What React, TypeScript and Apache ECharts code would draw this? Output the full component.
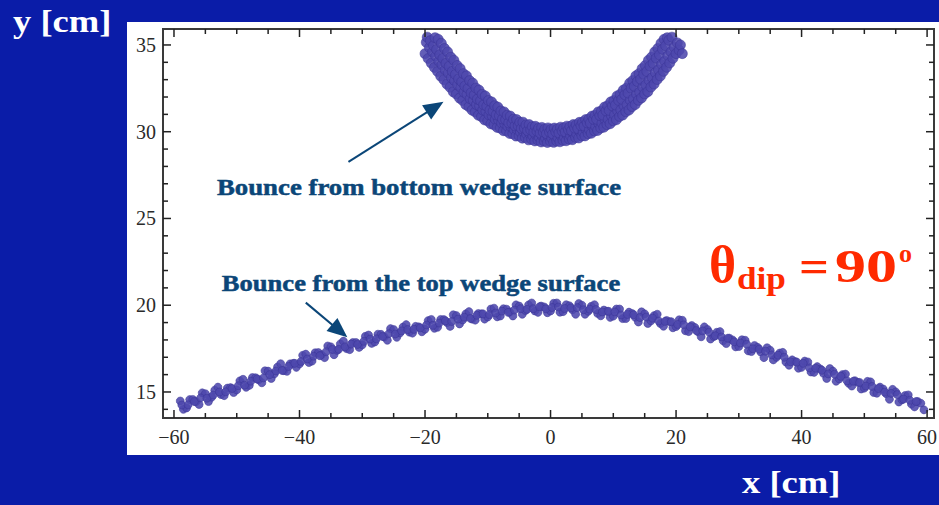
import React, { useEffect, useRef } from "react";
import * as echarts from "echarts";

// ---- axis ticks / labels ----
const xMajorTicks = [-60, -40, -20, 0, 20, 40, 60];
const xMinorTicks = [-60, -55, -50, -45, -40, -35, -30, -25, -20, -15, -10, -5, 0, 5, 10, 15, 20, 25, 30, 35, 40, 45, 50, 55, 60];
const yMajorTicks = [15, 20, 25, 30, 35];
const yMinorTicks = [14, 15, 16, 17, 18, 19, 20, 21, 22, 23, 24, 25, 26, 27, 28, 29, 30, 31, 32, 33, 34, 35];
const xRange = [-61.75, 61.1];
const yRange = [13.5, 35.92];

// ---- data: bounce from the top wedge surface (lower arc) ----
const topSurfaceBounce: number[][] = [
  [-59,14.48],[-58.5,14.0],[-58,14.08],[-57.5,14.56],[-57,14.57],[-56.5,14.44],[-56,14.28],[-55.5,14.95],[-55,14.9],[-54.5,14.45],
  [-54,14.7],[-53.5,15.1],[-53,15.28],[-52.5,14.85],[-52,14.79],[-51.5,15.22],[-51,15.25],[-50.5,14.97],[-50,15.12],[-49.5,15.64],
  [-49,15.73],[-48.5,15.27],[-48,15.38],[-47.5,15.83],[-47,15.82],[-46.5,15.7],[-46,15.53],[-45.5,16.22],[-45,16.2],[-44.5,15.78],
  [-44,16.05],[-43.5,16.44],[-43,16.63],[-42.5,16.23],[-42,16.19],[-41.5,16.62],[-41,16.65],[-40.5,16.42],[-40,16.62],[-39.5,17.11],
  [-39,17.18],[-38.5,16.7],[-38,16.78],[-37.5,17.26],[-37,17.27],[-36.5,17.14],[-36,16.98],[-35.5,17.65],[-35,17.6],[-34.5,17.15],
  [-34,17.4],[-33.5,17.77],[-33,17.93],[-32.5,17.5],[-32,17.44],[-31.5,17.85],[-31,17.85],[-30.5,17.57],[-30,17.72],[-29.5,18.21],
  [-29,18.28],[-28.5,17.8],[-28,17.88],[-27.5,18.33],[-27,18.32],[-26.5,18.17],[-26,17.98],[-25.5,18.65],[-25,18.6],[-24.5,18.15],
  [-24,18.4],[-23.5,18.74],[-23,18.88],[-22.5,18.45],[-22,18.39],[-21.5,18.78],[-21,18.75],[-20.5,18.47],[-20,18.62],[-19.5,19.11],
  [-19,19.18],[-18.5,18.67],[-18,18.73],[-17.5,19.18],[-17,19.17],[-16.5,19.0],[-16,18.78],[-15.5,19.45],[-15,19.4],[-14.5,18.92],
  [-14,19.15],[-13.5,19.5],[-13,19.63],[-12.5,19.2],[-12,19.14],[-11.5,19.52],[-11,19.5],[-10.5,19.2],[-10,19.32],[-9.5,19.78],
  [-9,19.83],[-8.5,19.33],[-8,19.38],[-7.5,19.8],[-7,19.77],[-6.5,19.6],[-6,19.38],[-5.5,20.02],[-5,19.95],[-4.5,19.48],
  [-4,19.7],[-3.5,20.02],[-3,20.13],[-2.5,19.67],[-2,19.59],[-1.5,19.95],[-1,19.9],[-0.5,19.57],[0,19.67],[0.5,20.11],
  [1,20.13],[1.5,19.6],[2,19.63],[2.5,20.03],[3,19.97],[3.5,19.74],[4,19.48],[4.5,20.1],[5,20.0],[5.5,19.48],
  [6,19.65],[6.5,19.94],[7,20.03],[7.5,19.53],[8,19.39],[8.5,19.72],[9,19.65],[9.5,19.3],[10,19.37],[10.5,19.78],
  [11,19.78],[11.5,19.23],[12,19.23],[12.5,19.6],[13,19.52],[13.5,19.3],[14,19.03],[14.5,19.62],[15,19.5],[15.5,18.95],
  [16,19.1],[16.5,19.4],[17,19.48],[17.5,18.95],[18,18.79],[18.5,19.12],[19,19.05],[19.5,18.7],[20,18.77],[20.5,19.16],
  [21,19.13],[21.5,18.53],[22,18.48],[22.5,18.83],[23,18.72],[23.5,18.47],[24,18.18],[24.5,18.75],[25,18.6],[25.5,18.05],
  [26,18.2],[26.5,18.44],[27,18.48],[27.5,17.95],[28,17.79],[28.5,18.1],[29,18.0],[29.5,17.6],[30,17.62],[30.5,18.01],
  [31,17.98],[31.5,17.37],[32,17.33],[32.5,17.68],[33,17.57],[33.5,17.3],[34,16.98],[34.5,17.55],[35,17.4],[35.5,16.85],
  [36,17.0],[36.5,17.24],[37,17.28],[37.5,16.73],[38,16.54],[38.5,16.85],[39,16.75],[39.5,16.37],[40,16.42],[40.5,16.78],
  [41,16.73],[41.5,16.15],[42,16.13],[42.5,16.46],[43,16.32],[43.5,16.07],[44,15.78],[44.5,16.35],[45,16.2],[45.5,15.62],
  [46,15.75],[46.5,16.0],[47,16.03],[47.5,15.5],[48,15.34],[48.5,15.65],[49,15.55],[49.5,15.17],[50,15.22],[50.5,15.61],
  [51,15.58],[51.5,14.97],[52,14.93],[52.5,15.28],[53,15.17],[53.5,14.9],[54,14.58],[54.5,15.15],[55,15.0],[55.5,14.42],
  [56,14.55],[56.5,14.8],[57,14.83],[57.5,14.3],[58,14.14],[58.5,14.45],[59,14.35],[59.5,13.97],
  [-58.75,14.25],[-57.75,14.26],[-56.75,14.45],[-55.75,14.66],[-54.75,14.64],[-53.75,14.82],[-52.75,15.0],[-51.75,15.01],
  [-50.75,15.2],[-49.75,15.36],[-48.75,15.39],[-47.75,15.62],[-46.75,15.75],[-45.75,15.81],[-44.75,16.0],[-43.75,16.21],
  [-42.75,16.24],[-41.75,16.47],[-40.75,16.65],[-39.75,16.76],[-38.75,16.9],[-37.75,17.06],[-36.75,17.09],[-35.75,17.32],
  [-34.75,17.45],[-33.75,17.46],[-32.75,17.6],[-31.75,17.76],[-30.75,17.74],[-29.75,17.92],[-28.75,18.05],[-27.75,18.06],
  [-26.75,18.2],[-25.75,18.36],[-24.75,18.34],[-23.75,18.52],[-22.75,18.6],[-21.75,18.61],[-20.75,18.7],[-19.75,18.86],
  [-18.75,18.84],[-17.75,18.97],[-16.75,19.1],[-15.75,19.06],[-14.75,19.2],[-13.75,19.31],[-12.75,19.24],[-11.75,19.42],
  [-10.75,19.5],[-9.75,19.46],[-8.75,19.55],[-7.75,19.66],[-6.75,19.59],[-5.75,19.72],[-4.75,19.8],[-3.75,19.76],
  [-2.75,19.8],[-1.75,19.91],[-0.75,19.79],[0.25,19.87],[1.25,19.9],[2.25,19.81],[3.25,19.85],[4.25,19.86],
  [5.25,19.74],[6.25,19.77],[7.25,19.75],[8.25,19.61],[9.25,19.65],[10.25,19.61],[11.25,19.44],[12.25,19.47],
  [13.25,19.45],[14.25,19.29],[15.25,19.32],[16.25,19.25],[17.25,19.09],[18.25,19.07],[19.25,19.05],[20.25,18.89],
  [21.25,18.87],[22.25,18.75],[23.25,18.54],[24.25,18.52],[25.25,18.45],[26.25,18.24],[27.25,18.17],[28.25,18.1],
  [29.25,17.89],[30.25,17.82],[31.25,17.75],[32.25,17.49],[33.25,17.47],[34.25,17.35],[35.25,17.14],[36.25,17.12],
  [37.25,17.0],[38.25,16.74],[39.25,16.72],[40.25,16.65],[41.25,16.39],[42.25,16.37],[43.25,16.25],[44.25,16.04],
  [45.25,16.02],[46.25,15.9],[47.25,15.64],[48.25,15.62],[49.25,15.55],[50.25,15.34],[51.25,15.32],[52.25,15.2],
  [53.25,14.99],[54.25,14.92],[55.25,14.85],[56.25,14.59],[57.25,14.52],[58.25,14.45]
];

// ---- data: bounce from the bottom wedge surface (U-shaped band) ----
const bottomSurfaceBounce: number[][] = [
  [-20,34.5],[-19.8,35.15],
  [-19.5,34.22],[-19.3,34.85],[-19.65,35.45],
  [-19,33.95],[-18.8,34.6],[-19.15,35.25],
  [-18.5,33.7],[-18.3,34.36],[-18.65,34.96],[-18.4,35.42],
  [-18,33.47],[-17.8,34.06],[-18.15,34.74],[-17.9,35.33],
  [-17.5,33.2],[-17.3,33.86],[-17.65,34.44],[-17.4,35.1],
  [-17,33.0],[-16.8,33.57],[-17.15,34.23],[-16.9,34.8],
  [-16.5,32.74],[-16.3,33.39],[-16.65,33.95],[-16.4,34.6],
  [-16,32.56],[-15.8,33.12],[-16.15,33.77],[-15.9,34.3],
  [-15.5,32.3],[-15.3,32.95],[-15.65,33.48],[-15.4,34.12],
  [-15,32.17],[-14.8,32.7],[-15.15,33.3],[-14.9,33.82],
  [-14.5,31.94],[-14.3,32.55],[-14.65,33.04],[-14.4,33.64],
  [-14,31.8],[-13.8,32.28],[-14.15,32.88],[-13.9,33.35],
  [-13.5,31.56],[-13.3,32.15],[-13.65,32.63],[-13.4,33.22],
  [-13,31.44],[-12.8,31.9],[-13.15,32.5],[-12.9,32.95],
  [-12.5,31.24],[-12.3,31.8],[-12.65,32.24],[-12.4,32.8],
  [-12,31.14],[-11.8,31.56],[-12.15,32.12],[-11.9,32.52],
  [-11.5,30.95],[-11.3,31.48],[-11.65,31.88],[-11.4,32.4],
  [-11,30.87],[-10.8,31.25],[-11.15,31.79],[-10.9,32.16],
  [-10.5,30.68],[-10.3,31.18],[-10.65,31.55],[-10.4,32.06],
  [-10,30.62],[-9.8,30.97],[-10.15,31.47],[-9.9,31.8],
  [-9.5,30.45],[-9.3,30.92],[-9.65,31.24],[-9.4,31.72],
  [-9,30.4],[-8.8,30.72],[-9.15,31.18],[-8.9,31.5],
  [-8.5,30.25],[-8.3,30.69],[-8.65,30.97],[-8.4,31.42],
  [-8,30.21],[-7.8,30.5],[-8.15,30.92],[-7.9,31.2],
  [-7.5,30.06],[-7.3,30.47],[-7.65,30.73],[-7.4,31.14],
  [-7,30.04],[-6.8,30.3],[-7.15,30.7],[-6.9,30.95],
  [-6.5,29.9],[-6.3,30.29],[-6.65,30.51],[-6.4,30.9],
  [-6,29.88],[-5.8,30.12],[-6.15,30.5],[-5.9,30.72],
  [-5.5,29.75],[-5.3,30.12],[-5.65,30.34],[-5.4,30.7],
  [-5,29.76],[-4.8,29.98],[-5.15,30.34],[-4.9,30.54],
  [-4.5,29.63],[-4.3,29.99],[-4.65,30.19],[-4.4,30.55],
  [-4,29.66],[-3.8,29.86],[-4.15,30.2],[-3.9,30.39],
  [-3.5,29.53],[-3.3,29.88],[-3.65,30.06],[-3.4,30.41],
  [-3,29.56],[-2.8,29.76],[-3.15,30.1],[-2.9,30.29],
  [-2.5,29.47],[-2.3,29.8],[-2.65,29.98],[-2.4,30.31],
  [-2,29.51],[-1.8,29.69],[-2.15,30.03],[-1.9,30.2],
  [-1.5,29.41],[-1.3,29.74],[-1.65,29.92],[-1.4,30.25],
  [-1,29.46],[-0.8,29.64],[-1.15,29.98],[-0.9,30.15],
  [-0.5,29.38],[-0.3,29.71],[-0.65,29.89],[-0.4,30.22],
  [0,29.45],[0.2,29.63],[-0.15,29.97],[0.1,30.14],
  [0.5,29.39],[0.7,29.72],[0.35,29.88],[0.6,30.21],
  [1,29.46],[1.2,29.65],[0.85,29.99],[1.1,30.16],
  [1.5,29.42],[1.7,29.75],[1.35,29.93],[1.6,30.26],
  [2,29.5],[2.2,29.7],[1.85,30.04],[2.1,30.22],
  [2.5,29.48],[2.7,29.81],[2.35,29.99],[2.6,30.32],
  [3,29.57],[3.2,29.77],[2.85,30.11],[3.1,30.3],
  [3.5,29.54],[3.7,29.89],[3.35,30.06],[3.6,30.41],
  [4,29.67],[4.2,29.87],[3.85,30.21],[4.1,30.4],
  [4.5,29.64],[4.7,30.0],[4.35,30.18],[4.6,30.54],
  [5,29.77],[5.2,29.98],[4.85,30.35],[5.1,30.55],
  [5.5,29.76],[5.7,30.13],[5.35,30.33],[5.6,30.7],
  [6,29.89],[6.2,30.12],[5.85,30.51],[6.1,30.73],
  [6.5,29.91],[6.7,30.3],[6.35,30.5],[6.6,30.9],
  [7,30.05],[7.2,30.3],[6.85,30.71],[7.1,30.95],
  [7.5,30.07],[7.7,30.48],[7.35,30.72],[7.6,31.14],
  [8,30.22],[8.2,30.5],[7.85,30.93],[8.1,31.2],
  [8.5,30.26],[8.7,30.7],[8.35,30.96],[8.6,31.42],
  [9,30.41],[9.2,30.72],[8.85,31.2],[9.1,31.5],
  [9.5,30.46],[9.7,30.93],[9.35,31.23],[9.6,31.72],
  [10,30.63],[10.2,30.97],[9.85,31.49],[10.1,31.8],
  [10.5,30.69],[10.7,31.2],[10.35,31.54],[10.6,32.06],
  [11,30.88],[11.2,31.25],[10.85,31.8],[11.1,32.16],
  [11.5,30.96],[11.7,31.5],[11.35,31.87],[11.6,32.4],
  [12,31.15],[12.2,31.56],[11.85,32.13],[12.1,32.52],
  [12.5,31.25],[12.7,31.82],[12.35,32.23],[12.6,32.8],
  [13,31.45],[13.2,31.9],[12.85,32.51],[13.1,32.95],
  [13.5,31.57],[13.7,32.17],[13.35,32.62],[13.6,33.22],
  [14,31.81],[14.2,32.28],[13.85,32.89],[14.1,33.35],
  [14.5,31.95],[14.7,32.57],[14.35,33.03],[14.6,33.64],
  [15,32.18],[15.2,32.7],[14.85,33.31],[15.1,33.82],
  [15.5,32.31],[15.7,32.97],[15.35,33.47],[15.6,34.12],
  [16,32.57],[16.2,33.12],[15.85,33.78],[16.1,34.3],
  [16.5,32.75],[16.7,33.41],[16.35,33.94],[16.6,34.6],
  [17,33.01],[17.2,33.57],[16.85,34.24],[17.1,34.8],
  [17.5,33.21],[17.7,33.88],[17.35,34.43],[17.6,35.1],
  [18,33.48],[18.2,34.06],[17.85,34.75],[18.1,35.33],
  [18.5,33.71],[18.7,34.38],[18.35,34.95],[18.6,35.42],
  [19,33.96],[19.2,34.6],[18.85,35.27],
  [19.5,34.23],[19.7,34.87],[19.35,35.45],
  [20,34.5],[20.2,35.12],
  [20.5,34.7],[20.7,35.0],
  [21,34.5]
];

// ---- annotation arrows (data coordinates: start -> head) ----
const arrowBottomWedge = [[-32.2, 28.26], [-18.4, 31.42]];
const arrowTopWedge = [[-39.0, 20.15], [-33.6, 18.52]];

const SERIF = "'Liberation Serif', 'Times New Roman', serif";
const BG = "#0a1ca8";
const NOTE = "#0b4678";
const RED = "#ff2a00";
const TICK = "#222222";

export default function App() {
  const ref = useRef<HTMLDivElement>(null);

  useEffect(() => {
    document.body.style.margin = "0";
    document.body.style.background = BG;
    const chart = echarts.init(ref.current!, null, { renderer: "svg" });

    const fmt = (v: number) => String(v).replace("-", "\u2212");
    const dotStyle = { color: "#4d48ad", borderColor: "#3a3496", borderWidth: 0.6, opacity: 0.88 };

    // tick marks on all four sides, pointing inward, placed through the axis scales
    const tickLine = (x1: number, y1: number, x2: number, y2: number) => ({
      type: "line",
      shape: { x1, y1, x2, y2 },
      style: { stroke: TICK, lineWidth: 1.5 },
    });
    const xTickSeries = {
      type: "custom",
      silent: true,
      clip: false,
      z: 5,
      data: xMinorTicks.map((v) => [v, yRange[0]]),
      encode: { x: 0, y: 1 },
      renderItem: (_p: any, api: any) => {
        const v = api.value(0);
        const len = xMajorTicks.includes(v) ? 8 : 5;
        const b = api.coord([v, yRange[0]]);
        const t = api.coord([v, yRange[1]]);
        return {
          type: "group",
          children: [tickLine(b[0], b[1], b[0], b[1] - len), tickLine(t[0], t[1], t[0], t[1] + len)],
        };
      },
    };
    const yTickSeries = {
      type: "custom",
      silent: true,
      clip: false,
      z: 5,
      data: yMinorTicks.map((v) => [xRange[0], v]),
      encode: { x: 0, y: 1 },
      renderItem: (_p: any, api: any) => {
        const v = api.value(1);
        const len = yMajorTicks.includes(v) ? 8 : 5;
        const l = api.coord([xRange[0], v]);
        const r = api.coord([xRange[1], v]);
        return {
          type: "group",
          children: [tickLine(l[0], l[1], l[0] + len, l[1]), tickLine(r[0], r[1], r[0] - len, r[1])],
        };
      },
    };

    chart.setOption({
      animation: false,
      backgroundColor: BG,
      grid: {
        left: 163, top: 29, right: 5, bottom: 87,
        show: true, borderColor: "#3a3a3a", borderWidth: 2, backgroundColor: "transparent",
        containLabel: false, outerBoundsMode: "none",
      },
      xAxis: {
        type: "value",
        min: xRange[0],
        max: xRange[1],
        axisLine: { show: false, onZero: false },
        axisTick: { show: false },
        axisLabel: { show: true, customValues: xMajorTicks, formatter: fmt, margin: 9, fontFamily: SERIF, fontSize: 20, color: "#2a2a2a" },
        splitLine: { show: false },
      },
      yAxis: {
        type: "value",
        min: yRange[0],
        max: yRange[1],
        axisLine: { show: false, onZero: false },
        axisTick: { show: false },
        axisLabel: { show: true, customValues: yMajorTicks, formatter: fmt, margin: 7, fontFamily: SERIF, fontSize: 20, color: "#2a2a2a" },
        splitLine: { show: false },
      },
      series: [
        {
          type: "scatter",
          name: "Bounce from the top wedge surface",
          data: topSurfaceBounce,
          symbolSize: 8,
          itemStyle: dotStyle,
          markLine: {
            silent: true,
            symbol: ["none", "triangle"],
            symbolSize: [17, 20],
            label: { show: false },
            lineStyle: { color: NOTE, width: 2, type: "solid" },
            data: [
              [{ coord: arrowTopWedge[0] }, { coord: arrowTopWedge[1] }],
              [{ coord: arrowBottomWedge[0] }, { coord: arrowBottomWedge[1] }],
            ],
          },
        },
        {
          type: "scatter",
          name: "Bounce from bottom wedge surface",
          data: bottomSurfaceBounce,
          symbolSize: 10,
          itemStyle: dotStyle,
        },
        xTickSeries,
        yTickSeries,
      ],
      graphic: [
        { type: "rect", z: -100, silent: true, shape: { x: 127, y: 22, width: 812, height: 433 }, style: { fill: "#ffffff" } },
        {
          type: "text", x: 13, y: 6, scaleX: 1.18,
          style: { text: "y [cm]", fill: "#ffffff", fontFamily: SERIF, fontWeight: "bold", fontSize: 31, textVerticalAlign: "top" },
        },
        {
          type: "text", x: 742, y: 467, scaleX: 1.18,
          style: { text: "x [cm]", fill: "#ffffff", fontFamily: SERIF, fontWeight: "bold", fontSize: 31, textVerticalAlign: "top" },
        },
        {
          type: "text", x: 419, y: 187, scaleX: 1.14,
          style: { text: "Bounce from bottom wedge surface", fill: NOTE, stroke: NOTE, lineWidth: 0.5, fontFamily: SERIF, fontWeight: "bold", fontSize: 23.5, textAlign: "center", textVerticalAlign: "middle" },
        },
        {
          type: "text", x: 421, y: 283, scaleX: 1.13,
          style: { text: "Bounce from the top wedge surface", fill: NOTE, stroke: NOTE, lineWidth: 0.5, fontFamily: SERIF, fontWeight: "bold", fontSize: 23.5, textAlign: "center", textVerticalAlign: "middle" },
        },
        {
          type: "text", x: 709, y: 264,
          style: { text: "\u03b8", fill: RED, fontFamily: SERIF, fontWeight: "bold", fontSize: 52, textVerticalAlign: "middle" },
        },
        {
          type: "text", x: 737, y: 278, scaleX: 1.1,
          style: { text: "dip", fill: RED, fontFamily: SERIF, fontWeight: "bold", fontSize: 32, textVerticalAlign: "middle" },
        },
        {
          type: "text", x: 799, y: 266, scaleX: 1.12,
          style: { text: "=", fill: RED, fontFamily: SERIF, fontWeight: "bold", fontSize: 47, textVerticalAlign: "middle" },
        },
        {
          type: "text", x: 835, y: 266, scaleX: 1.32,
          style: { text: "90", fill: RED, fontFamily: SERIF, fontWeight: "bold", fontSize: 47, textVerticalAlign: "middle" },
        },
        {
          type: "text", x: 899, y: 253,
          style: { text: "o", fill: RED, fontFamily: SERIF, fontWeight: "bold", fontSize: 26, textVerticalAlign: "middle" },
        },
      ],
    });

    return () => chart.dispose();
  }, []);

  return <div ref={ref} style={{ position: "absolute", left: 0, top: 0, width: 939, height: 505 }} />;
}
